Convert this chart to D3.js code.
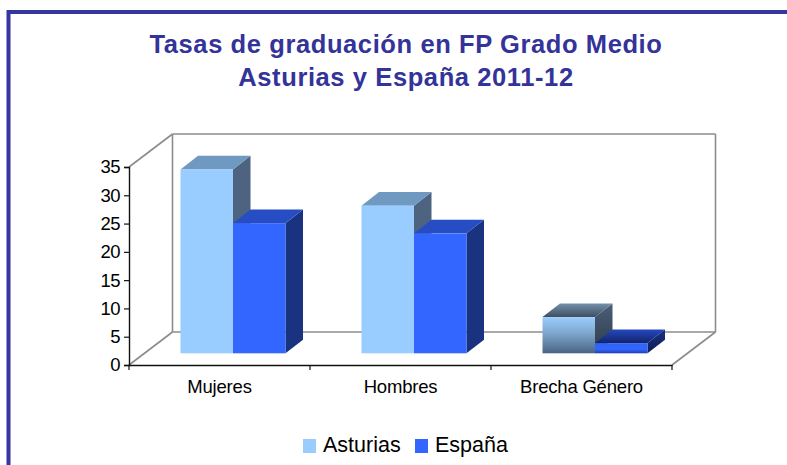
<!DOCTYPE html>
<html><head><meta charset="utf-8">
<script src="https://cdn.jsdelivr.net/npm/d3@7"></script>
<style>html,body{margin:0;padding:0;background:#fff;}svg{display:block;}</style>
</head><body><svg id="c" width="787" height="465"></svg>
<script>
const titleLines = ["Tasas de graduación en FP Grado Medio", "Asturias y España 2011-12"];
const categories = ["Mujeres", "Hombres", "Brecha Género"];
const seriesNames = ["Asturias", "España"];
const asturias = [32.5, 26.1, 6.4];
const espana = [23.0, 21.2, 1.8];
const yTicks = [0, 5, 10, 15, 20, 25, 30, 35];

const FONT = "'Liberation Sans', Arial, sans-serif";
const svg = d3.select("#c");
const defs = svg.append("defs");

// frame
svg.append("rect").attr("x", 8.5).attr("y", 12).attr("width", 800).attr("height", 480)
  .attr("fill", "none").attr("stroke", "#3636a2").attr("stroke-width", 4);

// title
svg.append("g").selectAll("text").data(titleLines).join("text")
  .attr("x", 406).attr("y", (d, i) => 53 + i * 33)
  .attr("text-anchor", "middle").attr("font-family", FONT).attr("font-weight", "bold")
  .attr("font-size", 25.5).attr("letter-spacing", 0.6).attr("fill", "#333399").text(d => d);

// scales
const x = d3.scaleBand().domain(categories).range([129, 672]);
const y = d3.scaleLinear().domain([0, 35]).range([365, 167]);
const D = {dx: 43.5, dy: -33};          // wall depth
const off = {dx: 13.5, dy: -11.7};      // bar front face offset
const bd = {dx: 17.5, dy: -13.6};       // bar depth
const barW = 52.5;
const sub = d3.scaleBand().domain(seriesNames).range([0, barW * 2]);

// walls
const wall = svg.append("g").attr("fill", "none").attr("stroke", "#8c8c8c").attr("stroke-width", 1.6);
const X0 = x.range()[0], X1 = x.range()[1];
const Y0 = y(0), Y1 = y(35);
const ln = (x1, y1, x2, y2) => wall.append("line").attr("x1", x1).attr("y1", y1).attr("x2", x2).attr("y2", y2);
ln(X0, Y1, X0 + D.dx, Y1 + D.dy);
ln(X0, Y0, X0 + D.dx, Y0 + D.dy);
ln(X0 + D.dx, Y1 + D.dy, X1 + D.dx, Y1 + D.dy);
ln(X0 + D.dx, Y1 + D.dy, X0 + D.dx, Y0 + D.dy);
ln(X1 + D.dx, Y1 + D.dy, X1 + D.dx, Y0 + D.dy);
ln(X0 + D.dx, Y0 + D.dy, X1 + D.dx, Y0 + D.dy);
ln(X1, Y0, X1 + D.dx, Y0 + D.dy);

// axes
const yAxis = d3.axisLeft(y).tickValues(yTicks).tickSize(5).tickPadding(4).tickFormat(d3.format("d"));
const gy = svg.append("g").attr("transform", `translate(${X0},0)`).call(yAxis);
gy.select(".domain").attr("stroke", "#111").attr("stroke-width", 1.4);
gy.selectAll(".tick line").attr("stroke", "#111").attr("stroke-width", 1.2);
gy.selectAll("text").attr("font-family", FONT).attr("font-size", 18.5).attr("fill", "#000")
  .attr("letter-spacing", -0.6);

const xAxis = d3.axisBottom(x).tickSize(0).tickPadding(0);
const gx = svg.append("g").attr("transform", `translate(0,${Y0})`).call(xAxis);
gx.select(".domain").attr("stroke", "#111").attr("stroke-width", 1.4);
gx.selectAll(".tick text").attr("font-family", FONT).attr("font-size", 18.5).attr("fill", "#000")
  .attr("dy", 0).attr("y", 28).attr("letter-spacing", -0.2);
// category boundary ticks
gx.append("g").selectAll("line").data(categories.map(c => x(c)).concat([X1])).join("line")
  .attr("x1", d => d).attr("x2", d => d).attr("y1", 0).attr("y2", 5)
  .attr("stroke", "#111").attr("stroke-width", 1.2);

// gradients for the Brecha point
function lg(id, stops, vertical = true) {
  const g = defs.append("linearGradient").attr("id", id)
    .attr("x1", 0).attr("y1", 0).attr("x2", vertical ? 0 : 1).attr("y2", vertical ? 1 : 0);
  stops.forEach(s => g.append("stop").attr("offset", s[0]).attr("stop-color", s[1]));
}
lg("gAf", [[0, "#99ccff"], [0.45, "#7fa6cc"], [1, "#4a6482"]]);
lg("gAt", [[0, "#7391ad"], [1, "#3e4d60"]]);
lg("gAs", [[0, "#4b5f78"], [1, "#2e3a4a"]]);
lg("gEf", [[0, "#2f62f5"], [0.6, "#3366ff"], [1, "#1f3fb0"]]);
lg("gEt", [[0, "#2448c0"], [1, "#13236a"]]);
lg("gEs", [[0, "#1a3080"], [1, "#0f1d55"]]);

const styles = {
  "Asturias": {front: "#99ccff", top: "#7099c2", side: "#4d6380"},
  "España": {front: "#3366ff", top: "#264dc4", side: "#1a3380"}
};
const gradStyles = {
  "Asturias": {front: "url(#gAf)", top: "url(#gAt)", side: "url(#gAs)"},
  "España": {front: "url(#gEf)", top: "url(#gEt)", side: "url(#gEs)"}
};
const gradientCategory = "Brecha Género";

const rows = [];
categories.forEach((c, i) => {
  [["Asturias", asturias[i]], ["España", espana[i]]].forEach(([s, v]) => rows.push({c, s, v}));
});

const bars = svg.append("g");
rows.forEach(r => {
  const st = r.c === gradientCategory ? gradStyles[r.s] : styles[r.s];
  const xl = x(r.c) + x.bandwidth() / 2 - barW + sub(r.s) + off.dx;
  const xr = xl + sub.bandwidth();
  const yt = y(r.v) + off.dy;
  const yb = y(0) + off.dy;
  const g = bars.append("g");
  g.append("path").attr("d", `M${xr},${yt}L${xr + bd.dx},${yt + bd.dy}L${xr + bd.dx},${yb + bd.dy}L${xr},${yb}Z`)
    .attr("fill", st.side);
  g.append("path").attr("d", `M${xl},${yt}L${xl + bd.dx},${yt + bd.dy}L${xr + bd.dx},${yt + bd.dy}L${xr},${yt}Z`)
    .attr("fill", st.top);
  g.append("rect").attr("x", xl).attr("y", yt).attr("width", xr - xl).attr("height", yb - yt)
    .attr("fill", st.front);
});

// legend
const legX = [303, 415];
const leg = svg.append("g").selectAll("g").data(seriesNames).join("g")
  .attr("transform", (d, i) => `translate(${legX[i]},439)`);
leg.append("rect").attr("width", 13).attr("height", 14).attr("fill", d => styles[d].front);
leg.append("text").attr("x", 20).attr("y", 12.5).attr("font-family", FONT).attr("font-size", 21.5)
  .attr("fill", "#000").text(d => d);
</script></body></html>
